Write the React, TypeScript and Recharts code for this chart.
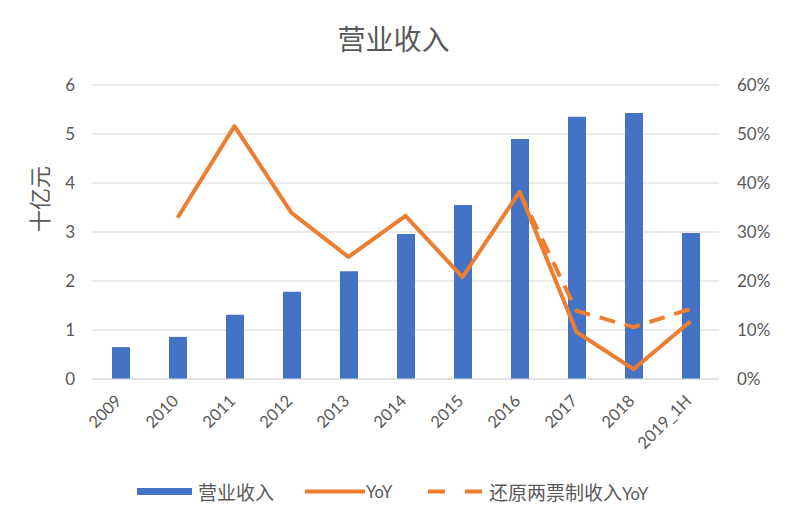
import React from "react";
import { ComposedChart, Bar, Line, XAxis, YAxis, CartesianGrid } from "recharts";

const categories = ["2009", "2010", "2011", "2012", "2013", "2014", "2015", "2016", "2017", "2018", "2019_1H"];
const revenue = [0.65, 0.86, 1.31, 1.78, 2.2, 2.96, 3.55, 4.9, 5.35, 5.43, 2.98];
const yoy = [null, 32.9, 51.6, 33.9, 24.9, 33.3, 20.8, 38.2, 9.6, 2.0, 11.8];
const yoyRestored = [null, null, null, null, null, null, null, 38.2, 13.9, 10.6, 14.3];
const leftTicks = [0, 1, 2, 3, 4, 5, 6];
const rightTicks = [0, 10, 20, 30, 40, 50, 60];

const data = categories.map((c, i) => ({
  name: c,
  revenue: revenue[i],
  yoy: yoy[i],
  yoyRestored: yoyRestored[i],
}));

const GREY = "#595959";
const BLUE = "#4472C4";
const ORANGE = "#ED7D31";
const LATIN = "Lato, 'Noto Sans CJK SC', sans-serif";
const CJK = "'Noto Sans CJK SC', sans-serif";

const XTick = (props: any) => {
  const { x, y, payload } = props;
  return (
    <text
      x={x + 2}
      y={y + 23}
      transform={`rotate(-45, ${x + 2}, ${y + 23})`}
      textAnchor="end"
      fill={GREY}
      fontSize={16.5}
      fontFamily={LATIN}
    >
      {payload.value}
    </text>
  );
};

export default function App() {
  return (
    <div style={{ position: "absolute", left: 0, top: 0, width: 787, height: 525, background: "#fff" }}>
      <div
        style={{
          position: "absolute",
          left: 0,
          top: 20,
          width: 787,
          textAlign: "center",
          fontFamily: CJK,
          fontSize: 28,
          color: GREY,
          lineHeight: "36px",
        }}
      >
        营业收入
      </div>
      <ComposedChart
        width={787}
        height={525}
        data={data}
        margin={{ top: 85, right: 0, left: 0, bottom: 86 }}
        barCategoryGap={0}
      >
        <CartesianGrid vertical={false} stroke="#D9D9D9" strokeWidth={1.2} yAxisId="left" />
        <XAxis
          dataKey="name"
          height={60}
          tickLine={false}
          tickSize={0}
          tickMargin={0}
          axisLine={{ stroke: "#D9D9D9", strokeWidth: 1.2 }}
          tick={<XTick />}
          interval={0}
        />
        <YAxis
          yAxisId="left"
          orientation="left"
          width={92}
          domain={[0, 6]}
          ticks={leftTicks}
          axisLine={false}
          tickLine={false}
          tickSize={0}
          tickMargin={17}
          tick={{ fill: GREY, fontSize: 17, fontFamily: LATIN }}
          label={{
            value: "十亿元",
            angle: -90,
            position: "insideLeft",
            offset: 40,
            fill: GREY,
            fontSize: 22,
            fontFamily: CJK,
          }}
        />
        <YAxis
          yAxisId="right"
          orientation="right"
          width={68}
          domain={[0, 60]}
          ticks={rightTicks}
          tickFormatter={(v: number) => `${v}%`}
          axisLine={false}
          tickLine={false}
          tickSize={0}
          tickMargin={18}
          tick={{ fill: GREY, fontSize: 17, fontFamily: LATIN, textAnchor: "start" }}
        />
        <Bar yAxisId="left" dataKey="revenue" fill={BLUE} barSize={18} isAnimationActive={false} />
        <Line
          yAxisId="right"
          dataKey="yoy"
          stroke={ORANGE}
          strokeWidth={4}
          dot={false}
          activeDot={false}
          strokeLinejoin="round"
          isAnimationActive={false}
        />
        <Line
          yAxisId="right"
          dataKey="yoyRestored"
          stroke={ORANGE}
          strokeWidth={4}
          strokeDasharray="16 10"
          dot={false}
          activeDot={false}
          isAnimationActive={false}
        />
      </ComposedChart>
      <div style={{ position: "absolute", left: 0, top: 478, width: 787, height: 28, fontFamily: CJK, color: GREY }}>
        <div style={{ position: "absolute", left: 137, top: 10, width: 55, height: 7, background: BLUE }} />
        <div style={{ position: "absolute", left: 198, top: 0, fontSize: 19, lineHeight: "28px" }}>营业收入</div>
        <svg style={{ position: "absolute", left: 305, top: 0 }} width={62} height={28}>
          <line x1={0} y1={13.5} x2={60} y2={13.5} stroke={ORANGE} strokeWidth={4} />
        </svg>
        <div style={{ position: "absolute", left: 366, top: 0, fontSize: 16.5, lineHeight: "28px", fontFamily: LATIN }}>YoY</div>
        <svg style={{ position: "absolute", left: 428, top: 0 }} width={60} height={28}>
          <line x1={0} y1={13.5} x2={58} y2={13.5} stroke={ORANGE} strokeWidth={4} strokeDasharray="17 20" />
        </svg>
        <div style={{ position: "absolute", left: 489, top: 0, fontSize: 19, lineHeight: "28px" }}>
          还原两票制收入<span style={{ fontFamily: LATIN, fontSize: 16.5 }}>YoY</span>
        </div>
      </div>
    </div>
  );
}
